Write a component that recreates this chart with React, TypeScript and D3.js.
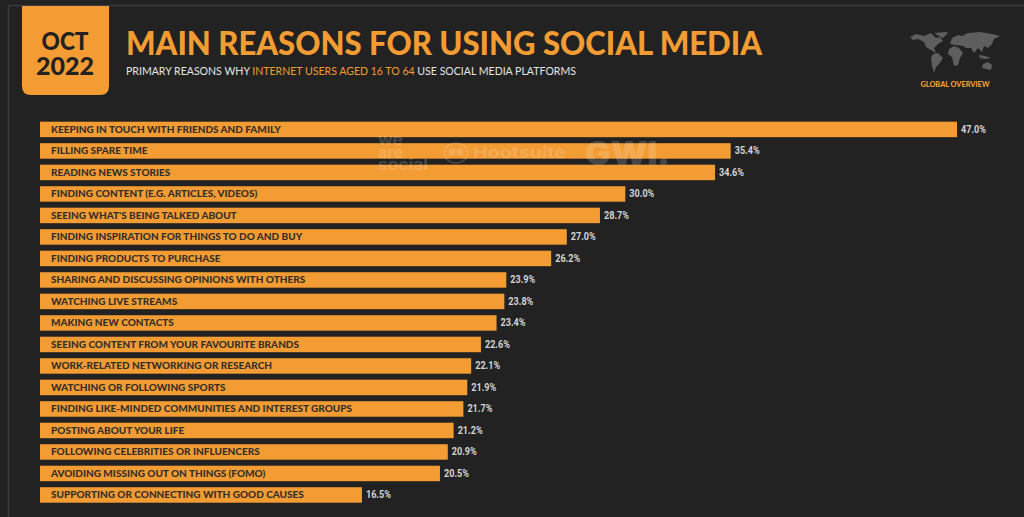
import { useEffect, useRef } from 'react';
import * as d3 from 'd3';

const reasons = [
  'KEEPING IN TOUCH WITH FRIENDS AND FAMILY',
  'FILLING SPARE TIME',
  'READING NEWS STORIES',
  'FINDING CONTENT (E.G. ARTICLES, VIDEOS)',
  "SEEING WHAT'S BEING TALKED ABOUT",
  'FINDING INSPIRATION FOR THINGS TO DO AND BUY',
  'FINDING PRODUCTS TO PURCHASE',
  'SHARING AND DISCUSSING OPINIONS WITH OTHERS',
  'WATCHING LIVE STREAMS',
  'MAKING NEW CONTACTS',
  'SEEING CONTENT FROM YOUR FAVOURITE BRANDS',
  'WORK-RELATED NETWORKING OR RESEARCH',
  'WATCHING OR FOLLOWING SPORTS',
  'FINDING LIKE-MINDED COMMUNITIES AND INTEREST GROUPS',
  'POSTING ABOUT YOUR LIFE',
  'FOLLOWING CELEBRITIES OR INFLUENCERS',
  'AVOIDING MISSING OUT ON THINGS (FOMO)',
  'SUPPORTING OR CONNECTING WITH GOOD CAUSES',
];
const shares = [47.0, 35.4, 34.6, 30.0, 28.7, 27.0, 26.2, 23.9, 23.8, 23.4, 22.6, 22.1, 21.9, 21.7, 21.2, 20.9, 20.5, 16.5];

// rough outlines for the little world map in the corner
const mapShapes = [
  // north + central america
  [[910, 37], [916, 34], [924, 36], [931, 33], [936, 38], [940, 37], [943, 41], [938, 44], [934, 48], [936, 53], [931, 50], [926, 47], [924, 42], [918, 39], [913, 40]],
  // greenland
  [[934, 33], [946, 32], [948, 33], [943, 38], [939, 36]],
  // south america
  [[933, 54], [938, 53], [943, 58], [940, 63], [936, 67], [934, 73], [932, 66], [931, 58]],
  // africa
  [[949, 49], [954, 46], [959, 48], [963, 53], [960, 58], [958, 65], [954, 66], [952, 57], [948, 54]],
  // eurasia
  [[950, 44], [952, 38], [958, 35], [962, 36], [968, 33], [980, 32], [992, 34], [1000, 36], [994, 39], [992, 44], [988, 48], [984, 46], [982, 52], [978, 48], [974, 53], [971, 48], [966, 48], [963, 46], [956, 45]],
  // indonesia
  [[979, 55], [985, 56], [991, 58], [985, 59], [980, 58]],
  // australia
  [[983, 64], [988, 62], [992, 65], [991, 70], [986, 69], [982, 68]],
];

const ORANGE = '#f39c33';
const BG = '#222222';
const FONT = 'Lato, sans-serif';

const App = () => {
  const svgRef = useRef<SVGSVGElement>(null);

  useEffect(() => {
    document.body.style.margin = '0';
    const svg = d3.select(svgRef.current);
    svg.selectAll('*').remove();

    svg.append('rect').attr('width', 1024).attr('height', 517).attr('fill', BG);
    // panel frame
    svg.append('path')
      .attr('d', 'M8.5,517V5.5H1024')
      .attr('fill', 'none')
      .attr('stroke', '#3a3a3a')
      .attr('stroke-width', 1.5);

    // date tab
    svg.append('path')
      .attr('d', 'M22,6H109V86Q109,95 100,95H31Q22,95 22,86Z')
      .attr('fill', ORANGE);
    svg.append('text').attr('x', 65).attr('y', 50).attr('text-anchor', 'middle')
      .attr('font-family', FONT).attr('font-weight', 900).attr('font-size', 25).attr('fill', BG)
      .attr('textLength', 47).attr('lengthAdjust', 'spacingAndGlyphs')
      .text('OCT');
    svg.append('text').attr('x', 65).attr('y', 75).attr('text-anchor', 'middle')
      .attr('font-family', FONT).attr('font-weight', 900).attr('font-size', 25).attr('fill', BG)
      .attr('textLength', 58).attr('lengthAdjust', 'spacingAndGlyphs')
      .text('2022');

    // heading
    svg.append('text').attr('x', 126).attr('y', 55)
      .attr('font-family', FONT).attr('font-weight', 900).attr('font-size', 33).attr('fill', ORANGE)
      .attr('textLength', 636).attr('lengthAdjust', 'spacingAndGlyphs')
      .text('MAIN REASONS FOR USING SOCIAL MEDIA');
    const sub = svg.append('text').attr('x', 126).attr('y', 75)
      .attr('font-family', FONT).attr('font-size', 11.5).attr('fill', '#e4e4e4')
      .attr('textLength', 450).attr('lengthAdjust', 'spacingAndGlyphs');
    sub.append('tspan').text('PRIMARY REASONS WHY ');
    sub.append('tspan').attr('fill', ORANGE).text('INTERNET USERS AGED 16 TO 64');
    sub.append('tspan').text(' USE SOCIAL MEDIA PLATFORMS');

    // map
    const mapLine = d3.line().curve(d3.curveLinearClosed);
    svg.append('g').selectAll('path').data(mapShapes).enter().append('path')
      .attr('d', d => mapLine(d as [number, number][]))
      .attr('fill', '#5e5e5e');
    svg.append('text').attr('x', 955).attr('y', 87).attr('text-anchor', 'middle')
      .attr('font-family', FONT).attr('font-weight', 900).attr('font-size', 7.5).attr('fill', ORANGE)
      .attr('textLength', 69).attr('lengthAdjust', 'spacingAndGlyphs')
      .text('GLOBAL OVERVIEW');

    // Scales
    const x = d3.scaleLinear().domain([0, 47]).range([40, 957]);
    const y = d3.scaleBand().domain(reasons).range([121.7, 502.7]).paddingInner(0.28);

    const rows = svg.append('g').selectAll('g')
      .data(reasons.map((r, i) => ({ reason: r, share: shares[i] })))
      .enter().append('g');

    rows.append('rect')
      .attr('x', x(0))
      .attr('y', d => y(d.reason)!)
      .attr('width', d => x(d.share) - x(0))
      .attr('height', y.bandwidth())
      .attr('fill', ORANGE);

    rows.append('text')
      .attr('x', 51)
      .attr('y', d => y(d.reason)! + y.bandwidth() / 2 + 3.1)
      .attr('font-family', FONT).attr('font-weight', 900).attr('font-size', 10)
      .attr('fill', '#33302b')
      .text(d => d.reason);

    rows.append('text')
      .attr('x', d => x(d.share) + 4)
      .attr('y', d => y(d.reason)! + y.bandwidth() / 2 + 3.5)
      .attr('font-family', 'Roboto, sans-serif').attr('font-weight', 700).attr('font-size', 11)
      .attr('textLength', 25).attr('lengthAdjust', 'spacingAndGlyphs')
      .attr('fill', '#d4d4d4')
      .text(d => d.share.toFixed(1) + '%');

    // watermark logos on top of the bars
    const wm = svg.append('g').attr('fill', '#ffffff').attr('opacity', 0.16).attr('font-family', 'Inter, sans-serif').attr('font-weight', 700);
    wm.append('text').attr('x', 378).attr('y', 145).attr('font-size', 15).attr('textLength', 25).attr('lengthAdjust', 'spacingAndGlyphs').text('we');
    wm.append('text').attr('x', 378).attr('y', 158).attr('font-size', 15).attr('textLength', 25).attr('lengthAdjust', 'spacingAndGlyphs').text('are');
    wm.append('text').attr('x', 378).attr('y', 170).attr('font-size', 15).attr('textLength', 50).attr('lengthAdjust', 'spacingAndGlyphs').text('social');
    // owl
    wm.append('ellipse').attr('cx', 456).attr('cy', 153).attr('rx', 11.5).attr('ry', 10)
      .attr('fill', 'none').attr('stroke', '#ffffff').attr('stroke-width', 1.5);
    wm.append('ellipse').attr('cx', 452).attr('cy', 152).attr('rx', 3.5).attr('ry', 4);
    wm.append('ellipse').attr('cx', 460).attr('cy', 152).attr('rx', 3.5).attr('ry', 4);
    wm.append('text').attr('x', 473).attr('y', 158).attr('font-size', 15).attr('textLength', 93).attr('lengthAdjust', 'spacingAndGlyphs').text('Hootsuite');
    wm.append('circle').attr('cx', 568).attr('cy', 152).attr('r', 1);
    wm.append('text').attr('x', 585).attr('y', 165).attr('font-size', 33).attr('font-weight', 900).attr('textLength', 85).attr('lengthAdjust', 'spacingAndGlyphs').text('GWI.');
  }, []);

  return <svg ref={svgRef} width={1024} height={517} style={{ display: 'block' }}></svg>;
};

export default App;
